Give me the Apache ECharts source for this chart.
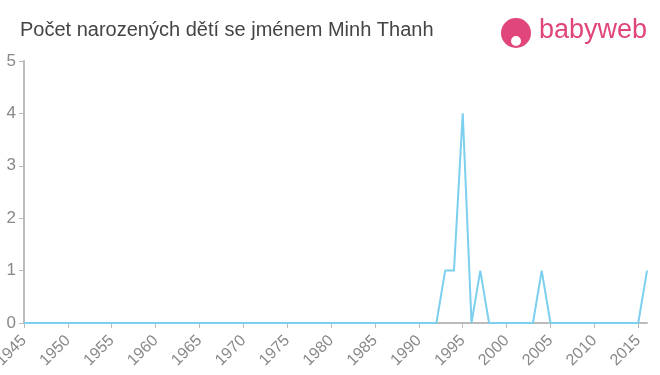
<!DOCTYPE html>
<html><head><meta charset="utf-8">
<script src="https://cdn.jsdelivr.net/npm/echarts@6/dist/echarts.min.js"></script>
<style>html,body{margin:0;padding:0;background:#fff}#c{width:660px;height:375px}</style>
</head><body><div id="c"></div>
<script>
const titleText = "Počet narozených dětí se jménem Minh Thanh";
const years = [];
for (let y = 1945; y <= 2016; y++) years.push(y);
const nonZero = {1993:1, 1994:1, 1995:4, 1997:1, 2004:1, 2016:1};
const values = years.map(y => nonZero[y] || 0);
const yTicks = [0,1,2,3,4,5];

const chart = echarts.init(document.getElementById('c'));
chart.setOption({
  animation: false,
  grid: {left: 24, right: 13, top: 61, bottom: 52, containLabel: false, outerBoundsMode: 'none'},
  title: {text: titleText, left: 15, top: 15,
    textStyle: {fontFamily: 'Liberation Sans, Arial', fontSize: 20, fontWeight: 'normal', color: '#444'}},
  graphic: [
    {type: 'circle', shape: {cx: 516, cy: 33, r: 15}, style: {fill: '#e0457b'}},
    {type: 'circle', shape: {cx: 516, cy: 41, r: 5}, style: {fill: '#fff'}},
    {type: 'text', left: 539, top: 17, style: {text: 'babyweb', fill: '#e0457b',
      font: '27px Liberation Sans, Arial'}}
  ],
  xAxis: {type: 'value', min: 1945, max: 2016, interval: 5,
    axisLine: {lineStyle: {color: '#bbb', width: 2}},
    axisTick: {show: true, length: 5, lineStyle: {color: '#bbb'}},
    splitLine: {show: false},
    axisLabel: {rotate: 45, color: '#888', fontSize: 16, fontFamily: 'Liberation Sans, Arial',
      showMaxLabel: false, margin: 15, formatter: v => String(v)}},
  yAxis: {type: 'value', min: 0, max: 5, interval: 1,
    axisLine: {show: true, lineStyle: {color: '#bbb', width: 2}},
    axisTick: {show: true, length: 5, lineStyle: {color: '#bbb'}},
    splitLine: {show: false},
    axisLabel: {color: '#888', fontSize: 17, fontFamily: 'Liberation Sans, Arial', margin: 8,
      formatter: v => yTicks.includes(v) ? String(v) : ''}},
  series: [{type: 'line', data: years.map((y, i) => [y, values[i]]), symbol: 'none',
    lineStyle: {color: '#7ccfee', width: 2}}]
});
</script></body></html>
